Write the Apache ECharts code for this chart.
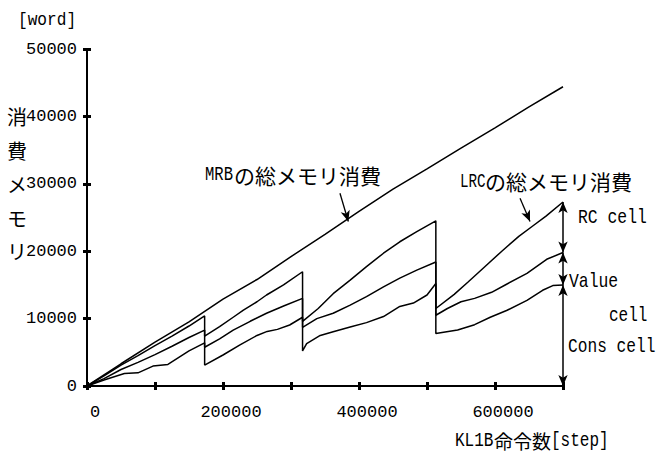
<!DOCTYPE html>
<html>
<head>
<meta charset="utf-8">
<script src="https://cdn.jsdelivr.net/npm/echarts@6/dist/echarts.min.js"></script>
<style>
html,body{margin:0;padding:0;background:#fff;}
#chart{width:661px;height:455px;}
</style>
</head>
<body>
<div id="chart"></div>
<script>
// ---- data (steps, words) ----
const mrbSteps = [0,50000,100000,150000,200000,250000,300000,350000,400000,450000,500000,550000,600000,650000,700000];
const mrbWords = [0,3300,6500,9500,12900,15800,19200,22500,25900,29200,32200,35300,38300,41400,44400];

// LRC total (RC cell top)
const lrcSteps = [0,25000,50000,75000,100000,125000,150000,173000,
  173000,195000,215000,230000,250000,264000,289000,317000,
  317000,340000,362000,387000,411000,436000,460000,485000,513000,
  513000,540000,560000,585000,610000,635000,655000,675000,700000];
const lrcWords = [0,1500,3100,4500,6000,7400,8900,10400,
  7400,8800,10200,11250,12500,13500,15000,16950,
  9600,11500,13700,15700,17700,19700,21400,22900,24500,
  11500,13600,15400,17700,20000,22200,23700,25200,27300];

// Value cell top
const valueSteps = [0,25000,50000,75000,100000,125000,150000,173000,
  173000,195000,215000,240000,264000,290000,317000,
  317000,338000,362000,387000,411000,436000,460000,485000,513000,
  513000,530000,550000,570000,595000,617000,647000,676000,700000];
const valueWords = [0,1100,2450,3500,4650,5900,7200,8300,
  5750,7000,8300,9600,10800,11900,13000,
  8700,10000,10800,12000,13250,14700,16000,17200,18400,
  10500,11500,12500,13000,13900,15100,16700,18800,19800];

// Cons cell top
const consSteps = [0,25000,55000,75000,97000,119000,150000,173000,
  173000,200000,225000,250000,265000,280000,298000,317000,
  317000,323000,343000,362000,387000,411000,436000,460000,480000,500000,513000,
  513000,545000,570000,593000,617000,647000,670000,685000,700000];
const consWords = [0,900,1850,1950,2950,3200,5200,6400,
  3100,4600,6100,7500,8100,8400,9050,10200,
  5200,6300,7500,8050,8750,9400,10300,11800,12300,13500,15200,
  7800,8300,9100,10200,11200,12700,14200,14900,15000];

const xLabelSteps = [0,200000,400000,600000];
const mrbArrow = [[372000,28600],[384300,24400]];
const lrcArrow = [[636800,27850],[651500,24400]];

// ---- helpers ----
const zip = (a,b) => a.map((v,i)=>[v,b[i]]);
const MONO = "'Liberation Mono', 'DejaVu Sans Mono', monospace";
const CJK = "'Noto Sans CJK JP', sans-serif";
const last = a => a[a.length-1];
const endStep = last(lrcSteps);

const lineStyle = {color:'#000', width:1.5};
const baseSeries = {type:'line', symbol:'none', showSymbol:false, silent:true, animation:false, lineStyle, itemStyle:{color:'#000'}, z:3};

const chart = echarts.init(document.getElementById('chart'), null, {renderer:'svg'});

const xCommon = {type:'value', min:0, max:700000, interval:100000, splitLine:{show:false}};
const yCommon = {type:'value', min:0, max:50000, interval:10000, splitLine:{show:false}};

const txt = (x, y, text, family, size, sx, align) => ({
  type:'text', x, y, scaleX: sx || 1, scaleY: 1, silent:true,
  style:{text, fontFamily:family, fontSize:size, fill:'#000', align: align || 'left', verticalAlign:'middle'}
});

chart.setOption({
  animation:false,
  backgroundColor:'#fff',
  grid:{left:87, right:98, top:49, bottom:69, containLabel:false},
  xAxis:[
    Object.assign({}, xCommon, {
      position:'bottom',
      axisLine:{show:true, lineStyle:{color:'#000', width:2}},
      axisTick:{show:true, length:4, lineStyle:{color:'#000', width:3}},
      axisLabel:{show:true, color:'#000', fontFamily:MONO, fontSize:17, margin:18, padding:[0,0,0,16],
        formatter: v => xLabelSteps.indexOf(v) >= 0 ? String(v) : ''}
    }),
    Object.assign({}, xCommon, {
      position:'bottom',
      axisLine:{show:false},
      axisTick:{show:true, inside:true, length:4, lineStyle:{color:'#000', width:3}},
      axisLabel:{show:false}
    })
  ],
  yAxis:[
    Object.assign({}, yCommon, {
      position:'left',
      axisLine:{show:true, lineStyle:{color:'#000', width:2}},
      axisTick:{show:true, length:4, lineStyle:{color:'#000', width:3}},
      axisLabel:{show:true, color:'#000', fontFamily:MONO, fontSize:17, margin:10, formatter: v => String(v)}
    }),
    Object.assign({}, yCommon, {
      position:'left',
      axisLine:{show:false},
      axisTick:{show:true, inside:true, length:4, lineStyle:{color:'#000', width:3}},
      axisLabel:{show:false}
    })
  ],
  series:[
    Object.assign({}, baseSeries, {
      name:'MRB', data: zip(mrbSteps, mrbWords),
      markLine:{silent:true, symbol:['none','arrow'], symbolSize:[7,11], label:{show:false},
        lineStyle:{color:'#000', width:1.3, type:'solid'},
        data:[
          [{coord:mrbArrow[0]},{coord:mrbArrow[1]}],
          [{coord:lrcArrow[0]},{coord:lrcArrow[1]}]
        ]}
    }),
    Object.assign({}, baseSeries, {
      name:'LRC', data: zip(lrcSteps, lrcWords),
      markLine:{silent:true, symbol:['arrow','arrow'], symbolSize:[7,11], label:{show:false},
        lineStyle:{color:'#000', width:1.5, type:'solid'},
        data:[
          [{coord:[endStep, last(lrcWords)]},{coord:[endStep, last(valueWords)]}],
          [{coord:[endStep, last(valueWords)]},{coord:[endStep, last(consWords)]}],
          [{coord:[endStep, last(consWords)]},{coord:[endStep, 0]}]
        ]}
    }),
    Object.assign({}, baseSeries, {name:'Value', data: zip(valueSteps, valueWords)}),
    Object.assign({}, baseSeries, {name:'Cons', data: zip(consSteps, consWords)})
  ],
  graphic:[
    txt(18, 20, '[word]', MONO, 19, 0.85),
    {type:'text', x:17, y:100, silent:true, style:{text:'消\n費\nメ\nモ\nリ', fontFamily:CJK, fontSize:20, lineHeight:33.75, fill:'#000', align:'center', verticalAlign:'top'}},
    txt(205, 175, 'MRB', MONO, 21, 0.74),
    txt(234, 175, 'の総メモリ消費', CJK, 21),
    txt(460, 181, 'LRC', MONO, 21, 0.68),
    txt(485, 181, 'の総メモリ消費', CJK, 21),
    txt(578, 218, 'RC cell', MONO, 20, 0.82),
    txt(569, 282, 'Value', MONO, 20, 0.82),
    txt(609, 315, 'cell', MONO, 20, 0.8),
    txt(568, 347, 'Cons cell', MONO, 20, 0.81),
    txt(455, 440, 'KL1B', MONO, 20, 0.8),
    txt(494, 440, '命令数', CJK, 19),
    txt(551, 440, '[step]', MONO, 20, 0.8)
  ]
});
</script>
</body>
</html>
